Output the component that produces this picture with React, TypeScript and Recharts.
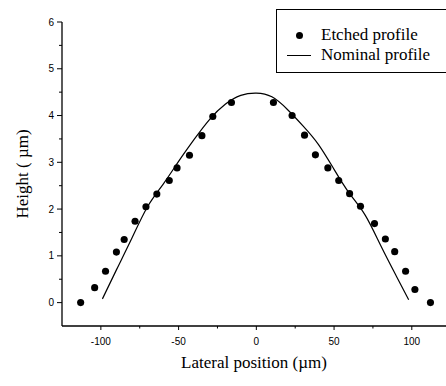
import React from "react";
import { ComposedChart, Scatter, Line, XAxis, YAxis, ZAxis, Legend } from "recharts";

// etched profile (dots)
const etchedX = [-113, -104, -97, -90, -85, -78, -71, -64, -56, -51, -43, -35, -28, -16, 11, 23, 31, 38, 46, 53, 60, 67, 76, 83, 89, 96, 102, 112];
const etchedY = [0, 0.32, 0.67, 1.08, 1.35, 1.74, 2.05, 2.32, 2.61, 2.88, 3.15, 3.57, 3.98, 4.28, 4.28, 4.0, 3.58, 3.16, 2.88, 2.61, 2.33, 2.06, 1.69, 1.36, 1.09, 0.67, 0.28, 0];

// nominal profile (line)
const nominalX = [-99, -90, -80, -70, -60, -50, -40, -30, -20, -10, 0, 10, 20, 30, 40, 50, 60, 70, 80, 90, 98];
const nominalY = [0.08, 0.7, 1.38, 2.05, 2.53, 3.02, 3.49, 3.92, 4.24, 4.43, 4.48, 4.4, 4.13, 3.78, 3.38, 2.85, 2.33, 1.87, 1.22, 0.57, 0.06];

const xTicks = [-100, -75, -50, -25, 0, 25, 50, 75, 100];
const yTicks = [0, 0.5, 1, 1.5, 2, 2.5, 3, 3.5, 4, 4.5, 5, 5.5, 6];

const etched = etchedX.map((x, i) => ({ x, y: etchedY[i] }));
const nominal = nominalX.map((x, i) => ({ x, y: nominalY[i] }));

const SANS = "'Liberation Sans', Arial, sans-serif";
const SERIF = "'Liberation Serif', 'Times New Roman', serif";

const YTick = (props: any) => {
  const { x, y, payload } = props;
  const ax = x + 5 + 3;
  const major = Number.isInteger(payload.value);
  return (
    <g>
      <line x1={ax - (major ? 5 : 3)} x2={ax} y1={y} y2={y} stroke="#000" strokeWidth={1} />
      {major && (
        <text x={x} y={y} dy="0.35em" textAnchor="end" fontSize={10} fontFamily={SANS} fill="#000">
          {payload.value}
        </text>
      )}
    </g>
  );
};

const XTick = (props: any) => {
  const { x, y, payload } = props;
  const ay = y - 4 - 8;
  const major = payload.value % 50 === 0;
  return (
    <g>
      <line x1={x} x2={x} y1={ay} y2={ay + (major ? 4 : 2.5)} stroke="#000" strokeWidth={1} />
      {major && (
        <text x={x} y={y} dy="0.71em" textAnchor="middle" fontSize={10} fontFamily={SANS} fill="#000">
          {payload.value}
        </text>
      )}
    </g>
  );
};

const LegendBox = (props: any) => {
  const items = props.payload || [];
  return (
    <div style={{ border: "1px solid #000", borderRight: "none", padding: "15px 0 7px 0", width: 170, boxSizing: "border-box", background: "#fff" }}>
      {items.map((it: any) => (
        <div key={it.value} style={{ display: "flex", alignItems: "center", height: 20 }}>
          <div style={{ width: 44, display: "flex", justifyContent: "center" }}>
            {it.type === "line" ? (
              <div style={{ width: 24, height: 1, background: "#000" }} />
            ) : (
              <div style={{ width: 7, height: 7, borderRadius: "50%", background: "#000" }} />
            )}
          </div>
          <span style={{ fontFamily: SERIF, fontSize: 17, color: "#000" }}>{it.value}</span>
        </div>
      ))}
    </div>
  );
};

export default function App() {
  return (
    <div style={{ position: "absolute", left: 0, top: 0, width: 446, height: 386, background: "#fff" }}>
      <ComposedChart width={446} height={386} margin={{ top: 22, right: 0, bottom: 0, left: 0 }}>
        <XAxis
          type="number"
          dataKey="x"
          domain={[-125, 122]}
          ticks={xTicks}
          interval={0}
          tickSize={4}
          tickMargin={8}
          tickLine={false}
          tick={<XTick />}
          height={60}
          axisLine={{ stroke: "#000", strokeWidth: 1.3 }}
          allowDataOverflow
          label={{ value: "Lateral position (\u00b5m)", position: "insideBottom", offset: 18, fontFamily: SERIF, fontSize: 17, fill: "#000" }}
        />
        <YAxis
          type="number"
          dataKey="y"
          domain={[-0.5, 6]}
          ticks={yTicks}
          interval={0}
          tickSize={5}
          tickMargin={3}
          tickLine={false}
          tick={<YTick />}
          width={62}
          axisLine={{ stroke: "#000", strokeWidth: 1.3 }}
          allowDataOverflow
          label={{
            content: ({ viewBox }: any) => (
              <text
                x={viewBox.x + 22}
                y={viewBox.y + viewBox.height / 2}
                transform={`rotate(-90 ${viewBox.x + 22} ${viewBox.y + viewBox.height / 2})`}
                textAnchor="middle"
                dominantBaseline="central"
                fontFamily={SERIF}
                fontSize={17}
                fill="#000"
              >
                Height ( µm)
              </text>
            ),
          }}
        />
        <ZAxis range={[40, 40]} />
        <Legend
          verticalAlign="middle"
          align="center"
          layout="vertical"
          wrapperStyle={{ position: "absolute", top: 9, left: 276, width: 170 }}
          content={<LegendBox />}
        />
        <Scatter name="Etched profile" data={etched} fill="#000" shape="circle" legendType="circle" isAnimationActive={false} />
        <Line name="Nominal profile" data={nominal} dataKey="y" type="natural" stroke="#000" strokeWidth={1.2} dot={false} legendType="line" isAnimationActive={false} />
      </ComposedChart>
    </div>
  );
}
